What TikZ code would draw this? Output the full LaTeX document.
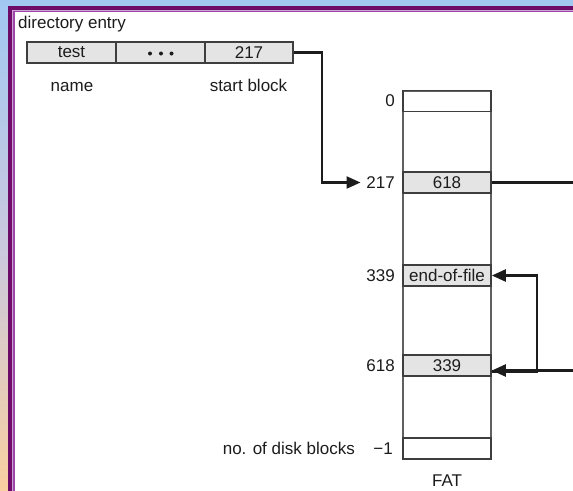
\documentclass[tikz,border=0pt]{standalone}
\usepackage{fontspec}
\setmainfont{Liberation Sans}
\usetikzlibrary{arrows.meta}
\definecolor{bgblue}{HTML}{A2C8F2}
\definecolor{bgmid}{HTML}{CBC8DE}
\definecolor{bgpeach}{HTML}{FAD09E}
\definecolor{darkpurple}{HTML}{6E0A68}
\definecolor{litepurple}{HTML}{9C46A8}
\definecolor{cellgray}{HTML}{E4E4E4}
\definecolor{ink}{HTML}{1C1C1C}
\tikzset{
  txt/.style={inner sep=0pt, font=\fontsize{17}{20}\selectfont, text=ink},
  cellbox/.style={draw=ink!85, line width=1.7pt, fill=cellgray, minimum height=21pt, inner sep=0pt, font=\fontsize{17}{20}\selectfont, text=ink},
  fatrow/.style={draw=ink!85, line width=1.7pt, minimum width=88pt, minimum height=21pt, inner sep=0pt, font=\fontsize{17}{20}\selectfont, text=ink},
  conn/.style={draw=ink, line width=2.3pt},
  tip/.style={-{Triangle[length=14pt,width=12pt]}},
}
\begin{document}
\begin{tikzpicture}[x=1pt,y=-1pt]
\useasboundingbox (0,0) rectangle (573,490);
% frame
\shade[top color=bgblue, bottom color=bgpeach, middle color=bgmid] (0,0) rectangle (580,500);
\fill[bgblue] (0,0) rectangle (580,6);
\fill[darkpurple] (8,6) rectangle (580,500);
\fill[litepurple!50!white] (12,10) rectangle (580,500);
\fill[litepurple] (13,10.8) rectangle (580,500);
\fill[white] (15,12) rectangle (580,500);

% directory entry
\node[txt, anchor=base west] (title) at (18,28.5) {directory entry};
\node[cellbox, minimum width=89pt] (cname) at (71.5,52.5) {test};
\node[cellbox, minimum width=89pt] (cdots) at (160.5,52.5) {};
\node[cellbox, minimum width=88pt] (cstart) at (249,52.5) {217};
\foreach \dx/\nm in {150/d1,161/d2,171.5/d3}
  \fill[ink] (\dx,53.5) circle (2pt);
\node[txt, anchor=base] (lname) at (72,91.5) {name};
\node[txt, anchor=base] (lstart) at (248.5,91.5) {start block};

% FAT column
\draw[draw=ink!70, line width=1.3pt] (403,91) rectangle (491,459);
\node[fatrow] (r0) at (447,101) {};
\node[fatrow, fill=cellgray] (r217) at (447,182.5) {618};
\node[fatrow, fill=cellgray] (r339) at (447,275.5) {end-of-file};
\node[fatrow, fill=cellgray] (r618) at (447,365.5) {339};
\node[fatrow] (rlast) at (447,448.5) {};
\node[txt, anchor=base] (fat) at (447,486) {FAT};

% row labels
\node[txt, anchor=east] (l0) at (395,101) {0};
\node[txt, anchor=east] (l217) at (395,182.5) {217};
\node[txt, anchor=east] (l339) at (395,275.5) {339};
\node[txt, anchor=east] (l618) at (395,365.5) {618};
\node[txt, anchor=east] (lm1) at (393,448.5) {\textminus1};
\node[txt, anchor=east] (lblocks) at (355,448.5) {no. of disk blocks};

% connectors
\coordinate (b1) at (322,52.5);
\coordinate (t217) at (360.5,182.5);
\draw[conn, tip] (cstart.east) -- (b1) |- (t217);

\coordinate (out1) at (576,182.5);
\draw[conn] (r217.east) -- (out1);
\coordinate (in1) at (576,370.5);
\draw[conn, tip] (in1) -- (r618.east |- in1);

\coordinate (s1) at ([yshift=-6pt]r618.east);
\coordinate (b2) at (537,275.5);
\draw[conn, tip] (s1) -- (s1 -| b2) -- (b2) -- (r339.east);
\end{tikzpicture}
\end{document}
